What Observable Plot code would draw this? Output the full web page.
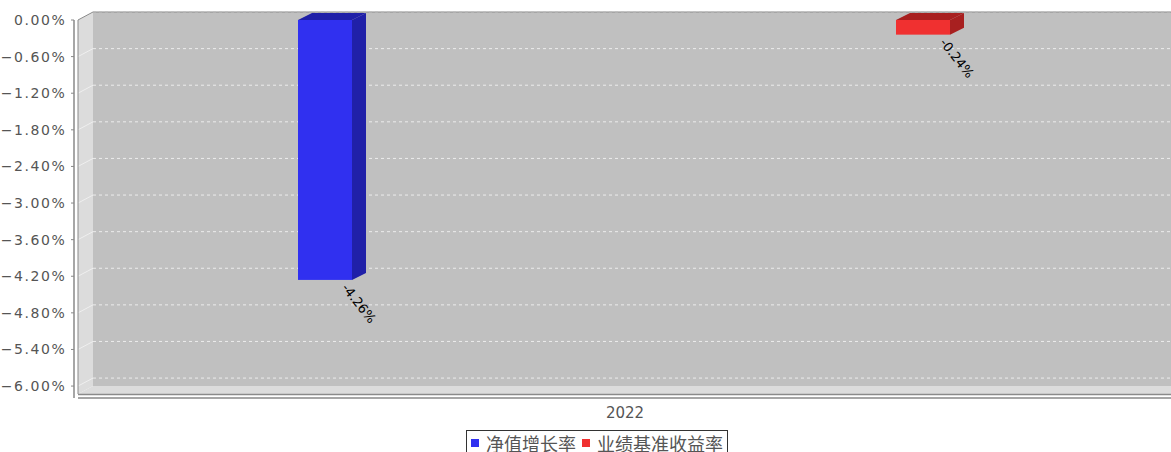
<!DOCTYPE html>
<html>
<head>
<meta charset="utf-8">
<script src="https://cdn.jsdelivr.net/npm/d3@7"></script>
<script src="https://cdn.jsdelivr.net/npm/@observablehq/plot@0.6"></script>
<style>
  body { margin: 0; background: #fff; font-family: "DejaVu Sans", sans-serif; }
  #legend { margin-left: 466px; margin-top: 2px; display: inline-flex; align-items: center; border: 1px solid #333; padding: 1px 4px 1px 4px; font-family: "Noto Sans CJK SC", sans-serif; font-size: 18px; color: #555; line-height: 22px; white-space: nowrap; }
  #legend .sw { display: inline-block; width: 8px; height: 8px; margin-right: 7px; }
  #legend .item { display: inline-flex; align-items: center; margin-right: 6px; }
  #legend .item:last-child { margin-right: 0; }
  g[aria-label="y-axis tick label"] text { letter-spacing: 1.6px; }
  g[aria-label="bar-label"] text { letter-spacing: 1.2px; }
</style>
</head>
<body>
<div id="chart"></div>
<div id="legend"></div>
<script>
const years = ["2022"];
const series = ["净值增长率", "业绩基准收益率"];
const values = [-4.26, -0.24];
const labels = ["-4.26%", "-0.24%"];
const colors = ["#3030f0", "#f03030"];
const sideColors = ["#2020a8", "#a82020"];
const yTicks = [0, -0.6, -1.2, -1.8, -2.4, -3.0, -3.6, -4.2, -4.8, -5.4, -6.0];

const data = series.map((s, i) => ({series: s, value: values[i], label: labels[i], color: colors[i], side: sideColors[i]}));

const WDX = 15, WDY = 8;   // wall depth
const BDX = 14, BDY = 7;   // bar depth
const fmt = d3.format(".2f");

function bw(s) { return typeof s.x.bandwidth === "function" ? s.x.bandwidth() : s.x.bandwidth; }

function walls(index, scales, vals, dims) {
  const {width, marginLeft, marginRight} = dims;
  const x0 = marginLeft, x1 = width - marginRight;
  const y = scales.y;
  const yTop = y(0), yBot = y(-6.13);
  const g = d3.create("svg:g");
  g.append("rect").attr("x", x0 + WDX).attr("y", yTop - WDY).attr("width", x1 - x0 + WDX).attr("height", yBot - yTop)
    .attr("fill", "#c0c0c0");
  g.append("polygon").attr("points", [[x0, yTop], [x0 + WDX, yTop - WDY], [x0 + WDX, yBot - WDY], [x0, yBot]].join(" "))
    .attr("fill", "#dcdcdc");
  g.append("polygon").attr("points", [[x0, yBot], [x0 + WDX, yBot - WDY], [x1 + WDX, yBot - WDY], [x1, yBot]].join(" "))
    .attr("fill", "#dcdcdc");
  for (const t of yTicks) {
    const yy = y(t);
    g.append("line").attr("x1", x0 + WDX).attr("x2", x1 + WDX).attr("y1", yy - WDY).attr("y2", yy - WDY)
      .attr("stroke", "#ececec").attr("stroke-dasharray", "3,3").attr("stroke-width", 1);
    g.append("line").attr("x1", x0).attr("x2", x0 + WDX).attr("y1", yy).attr("y2", yy - WDY)
      .attr("stroke", "#f4f4f4").attr("stroke-width", 1).attr("opacity", 0.8);
    g.append("line").attr("x1", x0 - 7).attr("x2", x0 - 4).attr("y1", yy).attr("y2", yy)
      .attr("stroke", "#888").attr("stroke-width", 1);
  }
  g.append("path").attr("d", `M${x0},${yBot}V${yTop}L${x0 + WDX},${yTop - WDY}H${x1 + WDX}`)
    .attr("fill", "none").attr("stroke", "#8a8a8a").attr("stroke-width", 1);
  g.append("line").attr("x1", x0).attr("x2", x1).attr("y1", yBot + 0.5).attr("y2", yBot + 0.5)
    .attr("stroke", "#8a8a8a").attr("stroke-width", 1.5);
  g.append("line").attr("x1", x0 - 4).attr("x2", x0 - 4).attr("y1", yTop).attr("y2", yBot + 4)
    .attr("stroke", "#888").attr("stroke-width", 1.5);
  g.append("line").attr("x1", x0).attr("x2", x1).attr("y1", yBot + 4).attr("y2", yBot + 4)
    .attr("stroke", "#888").attr("stroke-width", 1.5);
  return g.node();
}

function barFaces(index, scales, vals, dims) {
  const g = d3.create("svg:g");
  const w = bw(scales);
  const y0 = scales.y(0);
  for (const d of data) {
    const xl = scales.x(d.series), xr = xl + w, yv = scales.y(d.value);
    g.append("polygon").attr("points", [[xl, y0], [xl + BDX, y0 - BDY], [xr + BDX, y0 - BDY], [xr, y0]].join(" "))
      .attr("fill", d.side);
    g.append("polygon").attr("points", [[xr, y0], [xr + BDX, y0 - BDY], [xr + BDX, yv - BDY], [xr, yv]].join(" "))
      .attr("fill", d.side);
  }
  return g.node();
}

const chart = Plot.plot({
  width: 1171,
  height: 428,
  marginLeft: 78,
  marginRight: 0,
  marginTop: 20,
  marginBottom: 34,
  style: {fontFamily: "'DejaVu Sans', sans-serif", background: "#fff", overflow: "visible"},
  x: {domain: series, paddingInner: 0.909, paddingOuter: 0.367, axis: null},
  y: {domain: [-6.13, 0], axis: null},
  marks: [
    walls,
    Plot.axisY({ticks: yTicks, tickFormat: d => fmt(d) + "%", tickSize: 0, tickPadding: 12, fontSize: 14, fill: "#555", anchor: "left", label: null}),
    Plot.barY(data, {x: "series", y1: 0, y2: "value", fill: d => d.color}),
    barFaces,
    Plot.text(data, {x: "series", y: "value", text: "label", rotate: 52, textAnchor: "start", dx: 19, dy: 5, fontSize: 13, fill: "#000", ariaLabel: "bar-label"}),
    Plot.text(years, {frameAnchor: "bottom", text: d => d, lineAnchor: "middle", dy: 19, fontSize: 15, fill: "#555"})
  ],
  color: {type: "identity"}
});
document.getElementById("chart").appendChild(chart);

const legend = document.getElementById("legend");
series.forEach((s, i) => {
  const item = document.createElement("span");
  item.className = "item";
  item.innerHTML = `<span class="sw" style="background:${colors[i]}"></span>${s}`;
  legend.appendChild(item);
});
</script>
</body>
</html>
